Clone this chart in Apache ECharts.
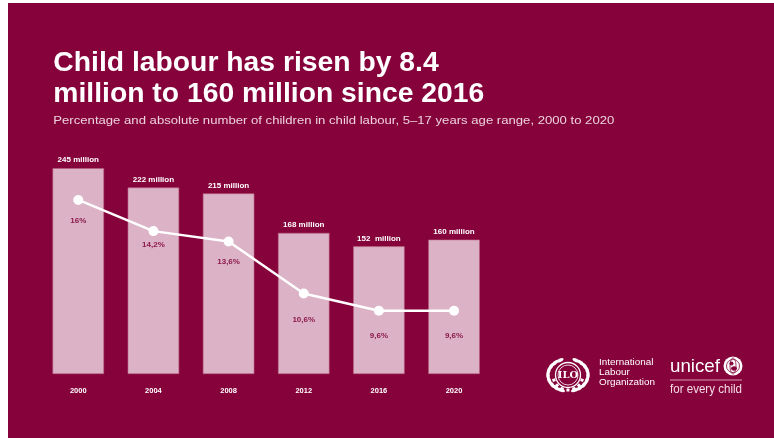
<!DOCTYPE html>
<html><head><meta charset="utf-8">
<script src="https://cdn.jsdelivr.net/npm/echarts@6/dist/echarts.min.js"></script>
<style>
html,body{margin:0;padding:0;background:#fff;width:774px;height:438px;overflow:hidden}
#c{position:absolute;left:8px;top:3px;width:766px;height:435px}
</style>
</head><body><div id="c"></div>
<script>
const years = ['2000', '2004', '2008', '2012', '2016', '2020'];
const childrenMillions = [245, 222, 215, 168, 152, 160];
const millionLabels = ['245 million', '222 million', '215 million', '168 million', '152  million', '160 million'];
const percentValues = [16, 14.2, 13.6, 10.6, 9.6, 9.6];
const percentLabels = ['16%', '14,2%', '13,6%', '10,6%', '9,6%', '9,6%'];
const titleLines = ['Child labour has risen by 8.4', 'million to 160 million since 2016'];
const subtitleText = 'Percentage and absolute number of children in child labour, 5\u201317 years age range, 2000 to 2020';
const iloLines = 'International\nLabour\nOrganization';

// label offsets (style, not data)
const pctLabelDy = [21, 14, 20, 26, 25, 25];

const BG = '#85023b';
const FF = '"Liberation Sans", Arial, sans-serif';
const mctx = document.createElement('canvas').getContext('2d');
function fitScale(text, font, target) {
  mctx.font = font;
  return target / mctx.measureText(text).width;
}

const titleFont = 'bold 28px ' + FF;
const titleScale = fitScale(titleLines[1], titleFont, 431);
const subFont = '11.5px ' + FF;
const subScale = fitScale(subtitleText, subFont, 561);
const iloFont = '9px ' + FF;
const iloScale = fitScale('Organization', iloFont, 56);
const unFont = '19px ' + FF;
const unScale = fitScale('unicef', unFont, 50);
const fecFont = '12px ' + FF;
const fecScale = fitScale('for every child', fecFont, 72);

function txt(x, y, text, font, fill, sx, extra) {
  return {
    type: 'text', x: x, y: y, scaleX: sx, silent: true,
    style: Object.assign({ x: 0, y: 0, text: text, font: font, fill: fill,
      verticalAlign: 'middle', textVerticalAlign: 'middle' }, extra || {})
  };
}

// ILO emblem
const ilo = [];
const cx = 560, cy = 372;
for (let k = 0; k < 9; k++) {
  const t = (-70 + k * 17) * Math.PI / 180;
  [1, -1].forEach(function (side) {
    const ang = side === 1 ? t : Math.PI - t;
    ilo.push({
      type: 'ellipse', silent: true,
      x: cx + 20 * Math.cos(ang), y: cy - 16 * Math.sin(ang),
      rotation: ang + Math.PI / 2,
      shape: { cx: 0, cy: 0, rx: 4, ry: 1.8 },
      style: { fill: '#fff' }
    });
  });
}
ilo.push({ type: 'circle', silent: true, shape: { cx: cx, cy: cy, r: 12.5 }, style: { fill: 'none', stroke: '#fff', lineWidth: 1.3 } });
ilo.push({ type: 'circle', silent: true, shape: { cx: cx, cy: cy, r: 10 }, style: { fill: 'none', stroke: '#fff', lineWidth: 0.8 } });
ilo.push({ type: 'text', silent: true, x: cx, y: cy, style: { text: 'ILO', font: 'bold 10px "DejaVu Serif", serif', fill: '#fff', align: 'center', verticalAlign: 'middle', textAlign: 'center', textVerticalAlign: 'middle' } });
for (let k = 0; k < 7; k++) {
  const a = (200 + k * 23.3) * Math.PI / 180;
  ilo.push({ type: 'rect', silent: true, x: cx + 15 * Math.cos(a), y: cy - 15 * Math.sin(a), rotation: a, shape: { x: -1.5, y: -1.5, width: 3, height: 3 }, style: { fill: '#fff' } });
}

// unicef emblem
const ux = 725, uy = 363;
const unicefEmblem = [
  { type: 'circle', silent: true, shape: { cx: ux, cy: uy, r: 9.5 }, style: { fill: '#fff' } },
  { type: 'circle', silent: true, shape: { cx: ux, cy: uy, r: 6.5 }, style: { fill: 'none', stroke: BG, lineWidth: 0.8 } },
  { type: 'ellipse', silent: true, shape: { cx: ux, cy: uy, rx: 3, ry: 8 }, style: { fill: 'none', stroke: BG, lineWidth: 0.8 } },
  { type: 'circle', silent: true, shape: { cx: ux - 1.5, cy: uy - 2.5, r: 2 }, style: { fill: BG } },
  { type: 'ellipse', silent: true, shape: { cx: ux + 1, cy: uy + 2.5, rx: 3, ry: 2.2 }, style: { fill: BG } }
];

const chart = echarts.init(document.getElementById('c'), null, { renderer: 'canvas' });
chart.setOption({
  animation: false,
  backgroundColor: BG,
  textStyle: { fontFamily: FF },
  grid: { left: 32.7, right: 282.4, top: 119, bottom: 64, containLabel: false },
  xAxis: {
    type: 'category', data: years,
    axisLine: { show: false }, axisTick: { show: false }, splitLine: { show: false },
    axisLabel: { color: '#fff', fontSize: 7.5, fontWeight: 'bold', margin: 13, fontFamily: FF }
  },
  yAxis: [
    { type: 'value', min: 0, max: 300, show: false, splitLine: { show: false } },
    { type: 'value', min: 5.95, max: 20.5, show: false, splitLine: { show: false } }
  ],
  series: [
    {
      type: 'bar', data: childrenMillions, barWidth: 51.5,
      itemStyle: { color: '#dcb2c6', borderColor: '#b8637f', borderWidth: 0.6 },
      label: {
        show: true, position: 'top', distance: 4,
        formatter: function (p) { return millionLabels[p.dataIndex]; },
        color: '#fff', fontSize: 8, fontWeight: 'bold', fontFamily: FF
      }
    },
    {
      type: 'line', yAxisIndex: 1,
      data: percentValues.map(function (v, i) { return { value: v, label: { offset: [0, pctLabelDy[i]] } }; }),
      symbol: 'circle', symbolSize: 10,
      lineStyle: { color: '#fff', width: 2.5 },
      itemStyle: { color: '#fff' },
      label: {
        show: true, position: 'inside',
        formatter: function (p) { return percentLabels[p.dataIndex]; },
        color: '#8b1a4b', fontSize: 8, fontWeight: 'bold', fontFamily: FF
      }
    }
  ],
  graphic: [].concat([
    txt(45.3, 60.5, titleLines[0], titleFont, '#fff', titleScale),
    txt(45.3, 91.5, titleLines[1], titleFont, '#fff', titleScale),
    txt(45.3, 118, subtitleText, subFont, '#edd3de', subScale),
    txt(591, 354, iloLines, iloFont, '#fff', iloScale, { verticalAlign: 'top', textVerticalAlign: 'top', lineHeight: 10.3 }),
    txt(662, 364, 'unicef', unFont, '#fff', unScale),
    { type: 'line', silent: true, shape: { x1: 662, y1: 377, x2: 734, y2: 377 }, style: { stroke: '#d99ab3', lineWidth: 1 } },
    txt(662, 387, 'for every child', fecFont, '#f3dbe5', fecScale)
  ], ilo, unicefEmblem)
});
</script>
</body></html>
